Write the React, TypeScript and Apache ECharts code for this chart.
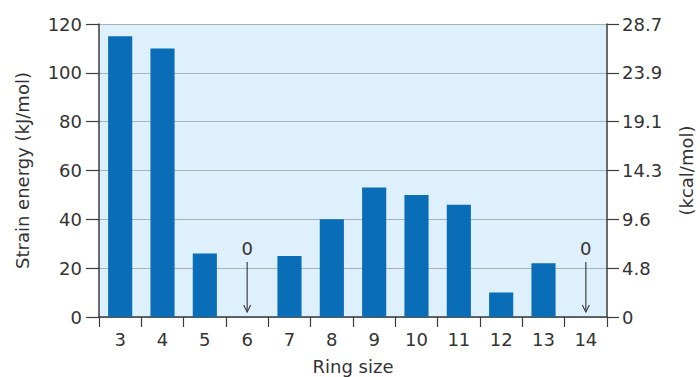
import React, { useEffect, useRef } from "react";
import * as echarts from "echarts";

const ringSizes = ["3", "4", "5", "6", "7", "8", "9", "10", "11", "12", "13", "14"];
const strainKJ = [115, 110, 26, 0, 25, 40, 53, 50, 46, 10, 22, 0];
const zeroRings = ["6", "14"];
const kjTicks = [0, 20, 40, 60, 80, 100, 120];
const kcalTickLabels = ["0", "4.8", "9.6", "14.3", "19.1", "23.9", "28.7"];

const FONT = "DejaVu Sans";
const TEXT = "#333333";
const AXIS = "#3c3c3c";

export default function App() {
  const ref = useRef<HTMLDivElement>(null);
  useEffect(() => {
    if (!ref.current) return;
    const chart = echarts.init(ref.current, undefined, { renderer: "svg" });
    const zeroData = zeroRings.map((r) => [ringSizes.indexOf(r), 0]);
    chart.setOption({
      animation: false,
      backgroundColor: "#ffffff",
      grid: {
        left: 99,
        right: 93,
        top: 24,
        bottom: 60,
        show: true,
        backgroundColor: "#ddf0fb",
        borderWidth: 0,
        containLabel: false,
        outerBoundsMode: "none",
      },
      xAxis: {
        type: "category",
        data: ringSizes,
        name: "Ring size",
        nameLocation: "middle",
        nameGap: 40,
        nameTextStyle: { fontFamily: FONT, fontSize: 18, color: TEXT },
        axisLine: { show: true, lineStyle: { color: AXIS, width: 1.5 } },
        axisTick: { show: true, length: 10, lineStyle: { color: AXIS, width: 1.2 } },
        axisLabel: { fontFamily: FONT, fontSize: 18, color: TEXT, margin: 13 },
        splitLine: { show: false },
      },
      yAxis: [
        {
          type: "value",
          min: kjTicks[0],
          max: kjTicks[kjTicks.length - 1],
          interval: 20,
          position: "left",
          name: "Strain energy (kJ/mol)",
          nameLocation: "middle",
          nameGap: 68,
          nameTextStyle: { fontFamily: FONT, fontSize: 18, color: TEXT },
          axisLine: { show: true, lineStyle: { color: AXIS, width: 1.5 } },
          axisTick: { show: true, length: 13, lineStyle: { color: AXIS, width: 1.2 } },
          axisLabel: { fontFamily: FONT, fontSize: 18, color: TEXT, margin: 17 },
          splitLine: { show: true, lineStyle: { color: "#a7b1b6", width: 1 } },
        },
        {
          type: "value",
          min: kjTicks[0],
          max: kjTicks[kjTicks.length - 1],
          interval: 20,
          position: "right",
          name: "(kcal/mol)",
          nameLocation: "middle",
          nameGap: 70,
          nameTextStyle: { fontFamily: FONT, fontSize: 18, color: TEXT },
          axisLine: { show: true, lineStyle: { color: AXIS, width: 1.5 } },
          axisTick: { show: true, length: 12, lineStyle: { color: AXIS, width: 1.2 } },
          axisLabel: {
            fontFamily: FONT,
            fontSize: 18,
            color: TEXT,
            margin: 15,
            formatter: (v: number) => kcalTickLabels[kjTicks.indexOf(v)] ?? "",
          },
          splitLine: { show: false },
        },
      ],
      series: [
        {
          type: "bar",
          data: strainKJ,
          barWidth: "57%",
          itemStyle: { color: "#0a6db7" },
          yAxisIndex: 0,
        },
        {
          type: "custom",
          data: zeroData,
          yAxisIndex: 0,
          z: 5,
          renderItem: (params: any, api: any) => {
            const p = api.coord([api.value(0), api.value(1)]);
            const x = p[0];
            const y = p[1];
            return {
              type: "group",
              children: [
                {
                  type: "text",
                  style: {
                    text: "0",
                    x: x,
                    y: y - 69,
                    align: "center",
                    verticalAlign: "middle",
                    fontFamily: FONT,
                    fontSize: 18,
                    fill: TEXT,
                  },
                },
                {
                  type: "line",
                  shape: { x1: x, y1: y - 55, x2: x, y2: y - 5 },
                  style: { stroke: "#404040", lineWidth: 1.2 },
                },
                {
                  type: "polyline",
                  shape: { points: [[x - 3.5, y - 12], [x, y - 5], [x + 3.5, y - 12]] },
                  style: { stroke: "#404040", lineWidth: 1.2, fill: "none" },
                },
              ],
            };
          },
        },
      ],
    });
    return () => chart.dispose();
  }, []);
  return <div ref={ref} style={{ width: 700, height: 377, position: "absolute", left: 0, top: 0 }} />;
}
